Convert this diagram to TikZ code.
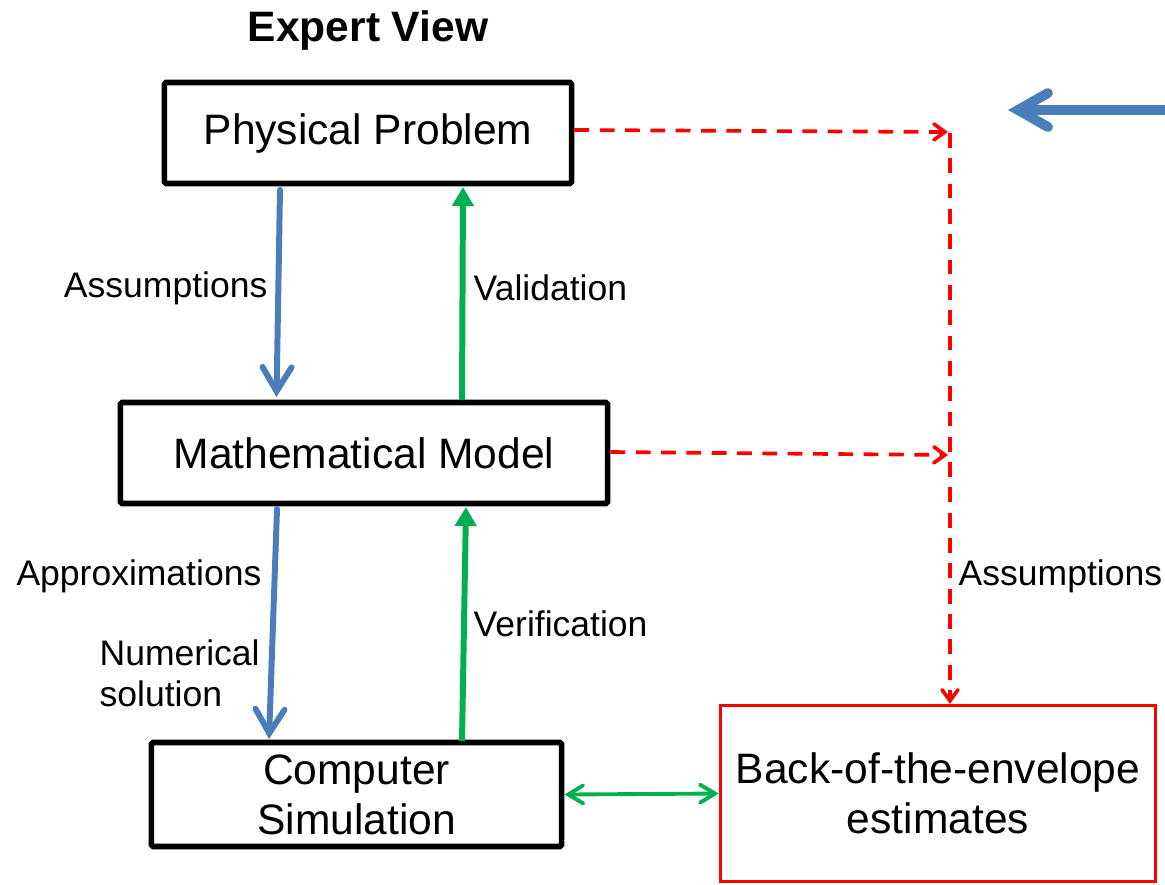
\documentclass[tikz,border=0pt]{standalone}
\usepackage{fontspec}
\setmainfont{Liberation Sans}
\usetikzlibrary{arrows.meta}
\definecolor{bl}{HTML}{4A7EBB}
\definecolor{gr}{HTML}{00B050}
\definecolor{rd}{HTML}{FF0000}
\tikzset{
  box/.style={draw=black, line width=1.6pt, rounded corners=0.5pt, inner sep=0pt, align=center, font=\fontsize{12.1}{14.2}\selectfont},
  redbox/.style={draw=rd, line width=0.9pt, inner sep=0pt, align=center, font=\fontsize{12.1}{14.2}\selectfont},
  lbl/.style={font=\fontsize{10.1}{11.8}\selectfont, inner sep=0pt},
  bluearr/.style={draw=bl, line width=1.7pt, line cap=round, -{Straight Barb[length=2.4mm, width=2.9mm, line cap=round]}},
  greenarr/.style={draw=gr, line width=1.7pt, -{Triangle[length=1.9mm, width=2.1mm]}},
  greendbl/.style={draw=gr, line width=1.1pt, {Straight Barb[length=1.5mm, width=1.8mm, line cap=round]}-{Straight Barb[length=1.5mm, width=1.8mm, line cap=round]}},
  reddash/.style={draw=rd, line width=1.05pt, dash pattern=on 4.2pt off 3pt, -{Straight Barb[length=1.1mm, width=1.6mm, line cap=round]}},
}
\begin{document}
\begin{tikzpicture}[x=0.01cm, y=-0.01cm]
\useasboundingbox (0,0) rectangle (1165,884);
\node[font=\bfseries\fontsize{12.1}{14.2}\selectfont] (title) at (368,30) {Expert View};
\node[box, minimum width=4.07cm, minimum height=1.01cm] (pp) at (368,133) {\raisebox{-0.5pt}{Physical Problem}};
\node[box, minimum width=4.87cm, minimum height=1.01cm] (mm) at (364,453) {Mathematical Model};
\node[box, minimum width=4.10cm, minimum height=1.04cm] (cs) at (356.5,794.5) {Computer\\Simulation};
\node[redbox, minimum width=4.35cm, minimum height=1.76cm] (be) at (938,793.5) {Back-of-the-envelope\\estimates};

\draw[bluearr] (280,190) -- (276.5,397);
\draw[greenarr] (462,400) -- (463,187);
\draw[bluearr] (277,509) -- (269,739);
\draw[greenarr] (462,741) -- (466,507);
\node[lbl, anchor=east] (a1) at (268,288) {Assumptions};
\node[lbl, anchor=west] (v1) at (473,288) {Validation};
\node[lbl, anchor=east] (a2) at (262,576) {Approximations};
\node[lbl, anchor=north west, align=left, font=\fontsize{10.1}{11.7}\selectfont] (ns) at (99,639) {Numerical\\solution};
\node[lbl, anchor=west] (v2) at (473,624) {Verification};
\node[lbl, anchor=west] (a3) at (958,576) {Assumptions};

\coordinate (c1) at (950,133);
\coordinate (c2) at (950,455);
\draw[reddash] (pp.east |- 0,130) -- (948,132);
\draw[reddash] (mm.east |- 0,452) -- (948,455);
\draw[reddash] (c1) -- (be.north -| c1);

\coordinate (bs) at (1165,110);
\coordinate (be2) at (1008,110);
\draw[draw=bl, line width=2.8pt, line cap=round, -{Straight Barb[length=3.0mm, width=3.4mm, line cap=round]}] (bs) -- (be2);

\draw[greendbl] (cs.east) -- (be.west);
\end{tikzpicture}
\end{document}
